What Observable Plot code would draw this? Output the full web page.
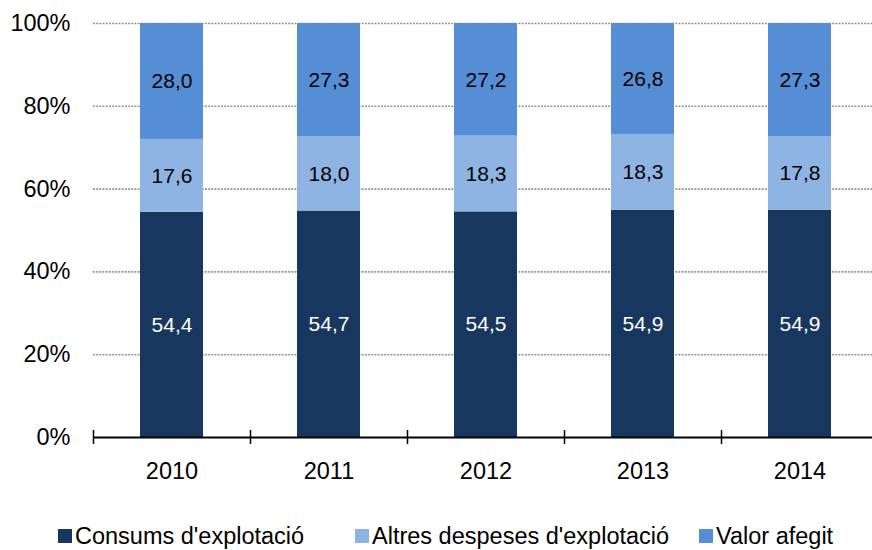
<!DOCTYPE html>
<html>
<head>
<meta charset="utf-8">
<script src="https://cdn.jsdelivr.net/npm/d3@7"></script>
<script src="https://cdn.jsdelivr.net/npm/@observablehq/plot@0.6"></script>
<style>
  html, body { margin: 0; padding: 0; background: #fff; }
  body { width: 872px; height: 550px; overflow: hidden; font-family: "Liberation Sans", Arial, sans-serif; }
  #legend { position: relative; height: 50px; font-size: 23.5px; color: #000; }
  .item { position: absolute; top: 22px; display: flex; align-items: center; height: 28px; line-height: 28px; white-space: nowrap; }
  .sw { width: 14px; height: 14px; margin-right: 3px; }
</style>
</head>
<body>
<div id="chart"></div>
<div id="legend"></div>
<script>
const years = ["2010", "2011", "2012", "2013", "2014"];
const seriesNames = ["Consums d'explotació", "Altres despeses d'explotació", "Valor afegit"];
const consums = [54.4, 54.7, 54.5, 54.9, 54.9];
const altres = [17.6, 18.0, 18.3, 18.3, 17.8];
const valor = [28.0, 27.3, 27.2, 26.8, 27.3];
const yTicks = [0, 20, 40, 60, 80, 100];
const colors = ["#17375E", "#8DB4E2", "#558ED5"];
const labelColors = ["#ffffff", "#000000", "#000000"];

const seriesValues = [consums, altres, valor];
const data = [];
seriesNames.forEach((s, si) => {
  years.forEach((y, yi) => {
    data.push({year: y, series: s, si, value: seriesValues[si][yi]});
  });
});

const xRange = [93, 878];
const step = (xRange[1] - xRange[0]) / years.length;

const plot = Plot.plot({
  width: 872,
  height: 500,
  marginLeft: 93,
  marginRight: 0,
  marginTop: 23,
  marginBottom: 63,
  style: {fontFamily: "'Liberation Sans', Arial, sans-serif", fontSize: "23.5px", color: "#000", background: "#fff"},
  x: {type: "band", domain: years, range: xRange, paddingInner: 0.6, paddingOuter: 0.3, label: null},
  y: {domain: [0, 100], label: null},
  color: {domain: seriesNames, range: colors},
  marks: [
    Plot.ruleY(yTicks.filter(d => d > 0), {stroke: "#8a8a8a", strokeWidth: 1.6, strokeDasharray: "1.8,1.4"}),
    Plot.barY(data, {x: "year", y: "value", fill: "series"}),
    Plot.text(data, Plot.stackY({
      x: "year", y: "value",
      text: d => d.value.toFixed(1).replace(".", ","),
      fill: d => labelColors[d.si],
      fontSize: 21
    })),
    Plot.ruleY([0], {stroke: "#000", strokeWidth: 2}),
    Plot.ruleX(years, {x: d => d, y1: 0, y2: 0, dx: -step / 2, insetTop: -7, insetBottom: -7, stroke: "#000", strokeWidth: 1.5}),
    Plot.axisX({tickSize: 0, tickPadding: 25, fontSize: 23.5}),
    Plot.axisY({ticks: yTicks, tickSize: 0, tickPadding: 23, tickFormat: d => d + "%", fontSize: 23.5})
  ]
});
document.getElementById("chart").appendChild(plot);

const legendLefts = [58, 355, 699];
const legend = document.getElementById("legend");
seriesNames.forEach((s, i) => {
  const item = document.createElement("div");
  item.className = "item";
  item.style.left = legendLefts[i] + "px";
  const sw = document.createElement("span");
  sw.className = "sw";
  sw.style.background = colors[i];
  const t = document.createElement("span");
  t.textContent = s;
  item.appendChild(sw);
  item.appendChild(t);
  legend.appendChild(item);
});
</script>
</body>
</html>
